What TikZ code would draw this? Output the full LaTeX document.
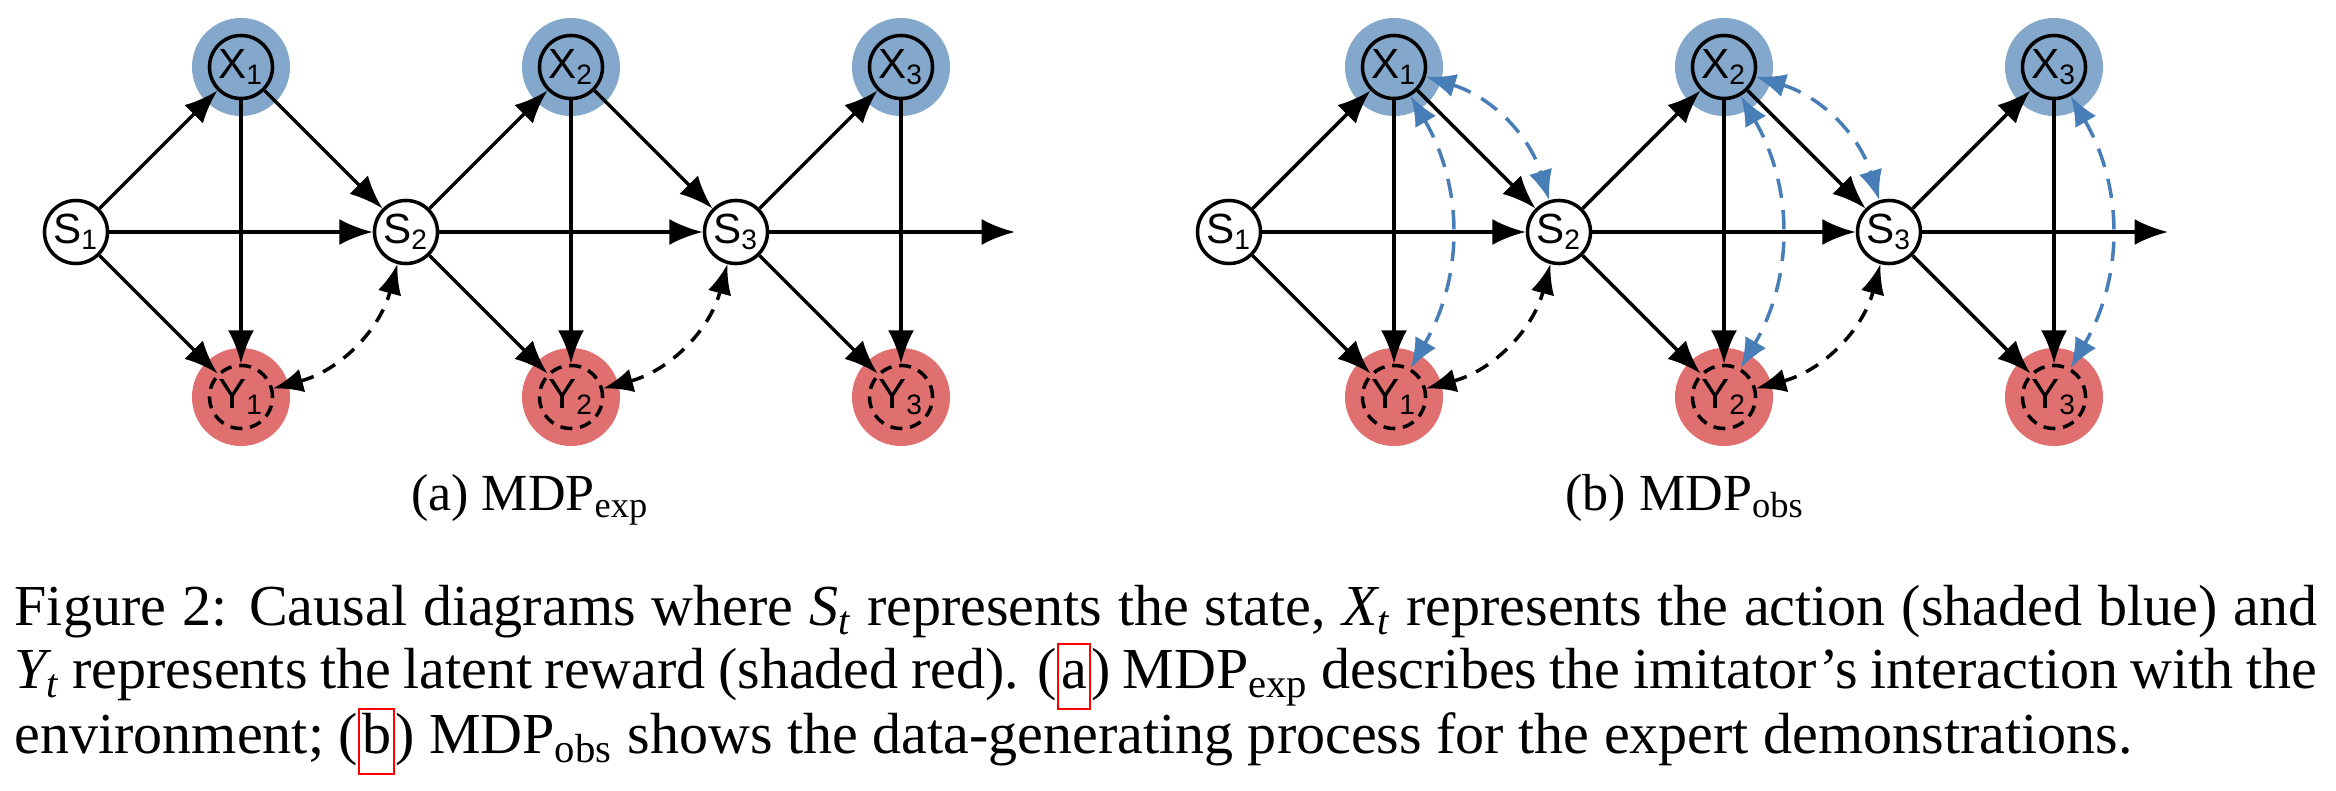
\documentclass[tikz,border=0pt]{standalone}
\usepackage{amsmath}
\usepackage{fontspec}
\setmainfont{Liberation Serif}
\setsansfont{Liberation Sans}
\usetikzlibrary{arrows.meta,backgrounds}

\definecolor{actblue}{RGB}{131,168,204}
\definecolor{rewred}{RGB}{224,112,112}
\definecolor{confblue}{RGB}{72,126,184}

\newcommand{\reflink}[1]{\smash{{\color{red}\setlength{\fboxsep}{0.6pt}\setlength{\fboxrule}{0.6pt}\fbox{\color{black}\rule[-5.1pt]{0pt}{16.7pt}#1}}}}

\tikzset{
  state/.style={circle, draw, fill=white, line width=1pt, minimum size=0.63cm, inner sep=0pt, font=\sffamily\fontsize{12}{13}\selectfont},
  action/.style={state, fill=actblue},
  reward/.style={state, fill=none, dash pattern=on 3.4pt off 2.2pt},
  arr/.style={-{Latex[length=9.5pt,width=7.4pt]}, line width=1pt},
  latent/.style={{Latex[length=8.5pt,width=6.8pt]}-{Latex[length=8.5pt,width=6.8pt]}, line width=1pt, dash pattern=on 4pt off 3pt},
  conf/.style={latent, draw=confblue, dash pattern=on 5.5pt off 3.5pt},
  subcap/.style={font=\fontsize{14.8}{17}\selectfont, anchor=base},
  capline/.style={font=\fontsize{16.5}{18.15}\selectfont, anchor=base west, inner sep=0pt}
}

\begin{document}
\begin{tikzpicture}[x=0.01cm,y=0.01cm]
  \useasboundingbox (0,0) rectangle (2336,790);

  % (a) MDP_exp
  \node[state] (aS1) at (76,558) {S\textsubscript{1}};
  \node[action] (aX1) at (241,723) {X\textsubscript{1}};
  \node[reward] (aY1) at (241,393) {Y\textsubscript{1}};
  \node[state] (aS2) at (406,558) {S\textsubscript{2}};
  \node[action] (aX2) at (571,723) {X\textsubscript{2}};
  \node[reward] (aY2) at (571,393) {Y\textsubscript{2}};
  \node[state] (aS3) at (736,558) {S\textsubscript{3}};
  \node[action] (aX3) at (901,723) {X\textsubscript{3}};
  \node[reward] (aY3) at (901,393) {Y\textsubscript{3}};
  \coordinate (aEnd) at (1015,558);

  \draw[arr] (aS1) edge (aX1) edge (aY1) edge (aS2);
  \draw[arr] (aX1) edge (aS2) edge (aY1);
  \draw[arr] (aS2) edge (aX2) edge (aY2) edge (aS3);
  \draw[arr] (aX2) edge (aS3) edge (aY2);
  \draw[arr] (aS3) edge (aX3) edge (aY3) edge (aEnd);
  \draw[arr] (aX3) -- (aY3);
  \draw[latent] (aY1) to[bend right=30] (aS2);
  \draw[latent] (aY2) to[bend right=30] (aS3);

  % (b) MDP_obs
  \node[state] (bS1) at (1229,558) {S\textsubscript{1}};
  \node[action] (bX1) at (1394,723) {X\textsubscript{1}};
  \node[reward] (bY1) at (1394,393) {Y\textsubscript{1}};
  \node[state] (bS2) at (1559,558) {S\textsubscript{2}};
  \node[action] (bX2) at (1724,723) {X\textsubscript{2}};
  \node[reward] (bY2) at (1724,393) {Y\textsubscript{2}};
  \node[state] (bS3) at (1889,558) {S\textsubscript{3}};
  \node[action] (bX3) at (2054,723) {X\textsubscript{3}};
  \node[reward] (bY3) at (2054,393) {Y\textsubscript{3}};
  \coordinate (bEnd) at (2168,558);

  \draw[arr] (bS1) edge (bX1) edge (bY1) edge (bS2);
  \draw[arr] (bX1) edge (bS2) edge (bY1);
  \draw[arr] (bS2) edge (bX2) edge (bY2) edge (bS3);
  \draw[arr] (bX2) edge (bS3) edge (bY2);
  \draw[arr] (bS3) edge (bX3) edge (bY3) edge (bEnd);
  \draw[arr] (bX3) -- (bY3);
  \draw[latent] (bY1) to[bend right=30] (bS2);
  \draw[latent] (bY2) to[bend right=30] (bS3);
  \draw[conf] (bX1) to[bend left=30] (bY1);
  \draw[conf] (bX2) to[bend left=30] (bY2);
  \draw[conf] (bX3) to[bend left=30] (bY3);
  \draw[conf] (bX1) to[bend left=28] (bS2);
  \draw[conf] (bX2) to[bend left=28] (bS3);

  % shaded discs behind actions and rewards
  \begin{scope}[on background layer]
    \fill[actblue] (aX1.center) circle (0.49cm) (aX2.center) circle (0.49cm) (aX3.center) circle (0.49cm)
      (bX1.center) circle (0.49cm) (bX2.center) circle (0.49cm) (bX3.center) circle (0.49cm);
    \fill[rewred] (aY1.center) circle (0.49cm) (aY2.center) circle (0.49cm) (aY3.center) circle (0.49cm)
      (bY1.center) circle (0.49cm) (bY2.center) circle (0.49cm) (bY3.center) circle (0.49cm);
  \end{scope}

  \node[subcap] (capa) at (530,280) {(a) MDP$_{\text{exp}}$};
  \node[subcap] (capb) at (1685,280) {(b) MDP$_{\text{obs}}$};

  \node[capline] (cap1) at (14,165) {\makebox[654.7pt][s]{Figure 2: Causal diagrams where $\textit{S}_{\textit{t}}$ represents the state, $\textit{X}_{\textit{t}}$ represents the action (shaded blue) and}};
  \node[capline] (cap2) at (14,102) {\makebox[654.7pt][s]{$\textit{Y}_{\textit{t}}$ represents the latent reward (shaded red). (\reflink{a}) MDP$_{\text{exp}}$ describes the imitator's interaction with the}};
  \node[capline] (cap3) at (14,37) {environment; (\reflink{b}) MDP$_{\text{obs}}$ shows the data-generating process for the expert demonstrations.};
\end{tikzpicture}
\end{document}
